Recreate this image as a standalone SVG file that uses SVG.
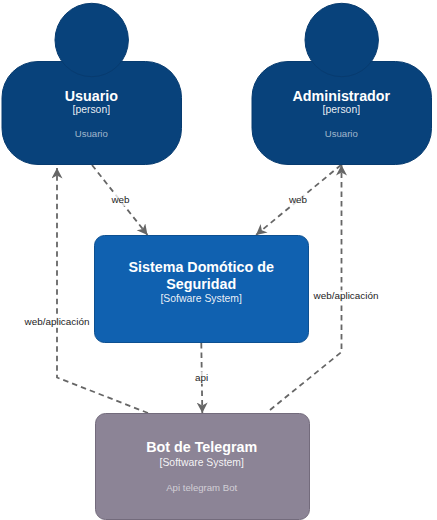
<svg xmlns="http://www.w3.org/2000/svg" width="437" height="520" viewBox="0 0 437 520">
<style>
text{font-family:"Liberation Sans",Arial,sans-serif;text-anchor:middle}
.t{font-weight:bold;font-size:14.3px;fill:#fff}
.s{font-size:10.4px;fill:#fff;fill-opacity:.92}
.d{font-size:9.6px;fill:#fff;fill-opacity:.62}
.l{font-size:9.9px;fill:#222}
.b{fill:#fff;fill-opacity:.75}
.c{fill:none;stroke:#666;stroke-width:1.8;stroke-dasharray:5.500 4;marker-end:url(#a)}
.p{fill:#08427b;stroke:#073b6f;stroke-width:1}
</style>
<defs><marker id="a" markerUnits="userSpaceOnUse" markerWidth="12" markerHeight="12" refX="10.500" refY="5.500" orient="auto"><path d="M0 0L10.500 5.500L0 11L3 5.500Z" fill="#666"/></marker></defs>
<rect width="437" height="520" fill="#fff"/>
<g id="connectors">
<path class="c" d="M92 165L147.500 235"/>
<path class="c" d="M341 165L256 235"/>
<path class="c" d="M201.300 343L202.300 413"/>
<path class="c" d="M148 413L57 377.500L57 168"/>
<path class="c" d="M270 410L341.500 352L341.500 165"/>
<rect class="b" x="111" y="194" width="20" height="12"/><text class="l" x="120.500" y="203">web</text>
<rect class="b" x="288" y="194" width="20" height="12"/><text class="l" x="298" y="203">web</text>
<rect class="b" x="195" y="372" width="13" height="12"/><text class="l" x="201.500" y="381">api</text>
<rect class="b" x="25" y="316" width="64" height="12"/><text class="l" x="57" y="325">web/aplicación</text>
<rect class="b" x="314" y="290" width="64" height="12"/><text class="l" x="346" y="299">web/aplicación</text>
</g>
<g id="usuario"><rect class="p" x="2" y="61.500" width="179.500" height="103" rx="36"/><circle class="p" cx="91.700" cy="40" r="36.700"/>
<text class="t" x="91.300" y="101">Usuario</text><text class="s" x="91.300" y="113">[person]</text><text class="d" x="91.300" y="137">Usuario</text></g>
<g id="administrador"><rect class="p" x="252" y="61.500" width="179.500" height="103" rx="36"/><circle class="p" cx="341.700" cy="40" r="36.700"/>
<text class="t" x="341.300" y="101">Administrador</text><text class="s" x="341.300" y="113">[person]</text><text class="d" x="341.300" y="137">Usuario</text></g>
<g id="sistema"><rect x="94.500" y="235.500" width="214" height="107" rx="10" fill="#1061b0" stroke="#0d5091"/>
<text class="t" x="201.200" y="272">Sistema Domótico de</text><text class="t" x="201.200" y="289">Seguridad</text><text class="s" x="201.200" y="302">[Sofware System]</text></g>
<g id="bot"><rect x="95.500" y="413.500" width="214" height="106" rx="10" fill="#8c8496" stroke="#736b7c"/>
<text class="t" x="201.700" y="452">Bot de Telegram</text><text class="s" x="201.700" y="466">[Software System]</text><text class="d" x="201.700" y="491">Api telegram Bot</text></g>
</svg>
